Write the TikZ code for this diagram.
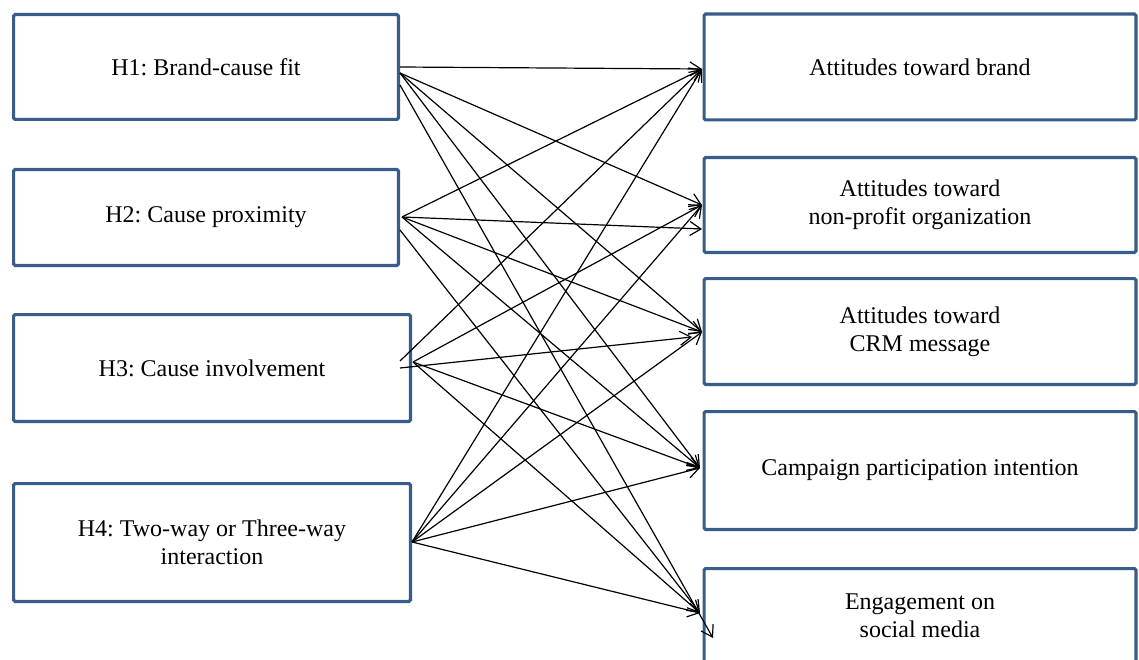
\documentclass[tikz,border=0pt]{standalone}
\usepackage{fontspec}
\setmainfont{Liberation Serif}
\usetikzlibrary{arrows.meta}
\definecolor{boxblue}{RGB}{56,93,138}
\frenchspacing
\begin{document}
\begin{tikzpicture}[x=1pt,y=-1pt,
  factor/.style={draw=boxblue, line width=3.2pt, rounded corners=1.5pt,
    outer sep=0pt, inner sep=0pt, align=center,
    font=\fontsize{24}{28}\selectfont},
  link/.style={line width=1.2pt,
    -{Straight Barb[length=11pt,width=14pt,line width=1.2pt]}}
]
\path[use as bounding box, clip] (0,0) rectangle (1139,660);

% hypotheses
\node[factor, minimum width=384.8pt, minimum height=104.8pt] (h1) at (206,67) {H1: Brand-cause fit};
\node[factor, minimum width=384.8pt, minimum height=95.8pt]  (h2) at (206,217.5) {H2: Cause proximity};
\node[factor, minimum width=396.8pt, minimum height=106.8pt] (h3) at (212,368) {H3: Cause involvement};
\node[factor, minimum width=396.8pt, minimum height=117.8pt] (h4) at (212,542.5) {H4: Two-way or Three-way\\interaction};

% outcomes
\node[factor, minimum width=431.8pt, minimum height=105.8pt] (r1) at (920,67) {Attitudes toward brand};
\node[factor, minimum width=431.8pt, minimum height=94.8pt]  (r2) at (920,205) {Attitudes toward\\non-profit organization};
\node[factor, minimum width=431.8pt, minimum height=105.8pt] (r3) at (920,331.5) {Attitudes toward\\CRM message};
\node[factor, minimum width=431.8pt, minimum height=117.8pt] (r4) at (920,470.5) {Campaign participation intention};
\node[factor, minimum width=431.8pt, minimum height=94.8pt]  (r5) at (920,616) {Engagement on\\social media};

% connector end points
\coordinate (h1o) at (400,67);
\coordinate (h1f) at (400,73);
\coordinate (h1g) at (400,85);
\coordinate (h2f) at (402,217);
\coordinate (h2g) at (400,230);
\coordinate (h3f) at (413,362);
\coordinate (h3u) at (400,361);
\coordinate (h3m) at (400,368);
\coordinate (h4f) at (412,542);
\coordinate (r1t) at (702,69);
\coordinate (r2t) at (702,205);
\coordinate (r2u) at (702,229);
\coordinate (r3t) at (702,332);
\coordinate (r3u) at (692,337);
\coordinate (r4t) at (700,468);
\coordinate (r5t) at (700,613);
\coordinate (r5u) at (713,638);

% H1
\draw[link] (h1o) -- (r1t);
\draw[link] (h1f) -- (r2t);
\draw[link] (h1f) -- (r3t);
\draw[link] (h1f) -- (r4t);
\draw[link] (h1g) -- (r5u);
% H2
\draw[link] (h2f) -- (r1t);
\draw[link] (h2f) -- (r2u);
\draw[link] (h2f) -- (r3t);
\draw[link] (h2f) -- (r4t);
\draw[link] (h2g) -- (r5t);
% H3
\draw[link] (h3u) -- (r1t);
\draw[link] (h3f) -- (r2t);
\draw[link] (h3m) -- (r3u);
\draw[link] (h3f) -- (r4t);
\draw[link] (h3f) -- (r5t);
% H4
\draw[link] (h4f) -- (r1t);
\draw[link] (h4f) -- (r2t);
\draw[link] (h4f) -- (r3t);
\draw[link] (h4f) -- (r4t);
\draw[link] (h4f) -- (r5t);
\end{tikzpicture}
\end{document}
